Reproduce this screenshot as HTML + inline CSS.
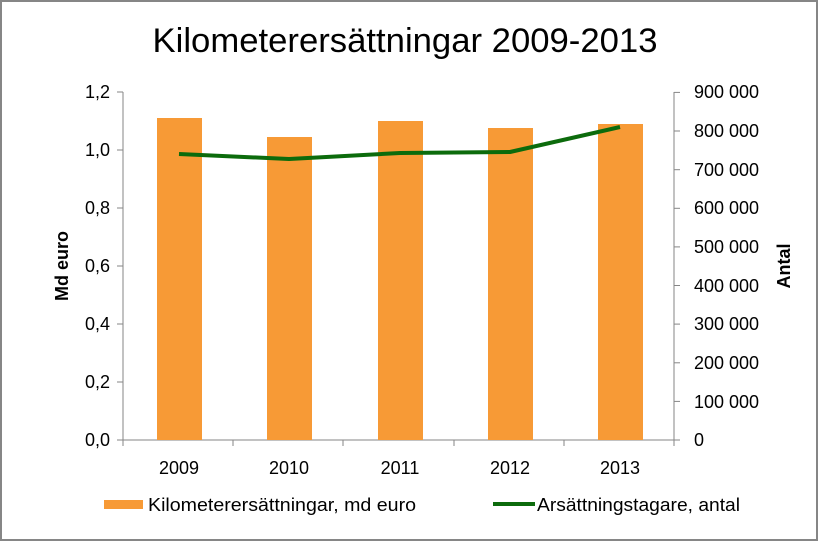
<!DOCTYPE html>
<html><head><style>
body{margin:0;background:#fff;}
svg text{font-family:"Liberation Sans Narrow","Liberation Sans",sans-serif;}
</style></head><body>
<svg width="818" height="541" xmlns="http://www.w3.org/2000/svg">
<rect x="1" y="1" width="816" height="539" fill="#fff" stroke="#868686" stroke-width="2"/>
<text x="405" y="52" font-size="34" text-anchor="middle" fill="#000" textLength="505" lengthAdjust="spacingAndGlyphs">Kilometerersättningar 2009-2013</text>
<g stroke="#868686" stroke-width="1">
<line x1="123" y1="92" x2="123" y2="440"/>
<line x1="674" y1="92" x2="674" y2="440"/>
<line x1="117" y1="440" x2="680" y2="440"/>
<line x1="117" y1="382" x2="123" y2="382"/><line x1="117" y1="324" x2="123" y2="324"/>
<line x1="117" y1="266" x2="123" y2="266"/><line x1="117" y1="208" x2="123" y2="208"/>
<line x1="117" y1="150" x2="123" y2="150"/><line x1="117" y1="92" x2="123" y2="92"/>
<line x1="674" y1="401.4" x2="680" y2="401.4"/><line x1="674" y1="362.8" x2="680" y2="362.8"/>
<line x1="674" y1="324.1" x2="680" y2="324.1"/><line x1="674" y1="285.5" x2="680" y2="285.5"/>
<line x1="674" y1="246.9" x2="680" y2="246.9"/><line x1="674" y1="208.3" x2="680" y2="208.3"/>
<line x1="674" y1="169.7" x2="680" y2="169.7"/><line x1="674" y1="131" x2="680" y2="131"/>
<line x1="674" y1="92.4" x2="680" y2="92.4"/>
<line x1="233" y1="440" x2="233" y2="446"/><line x1="343" y1="440" x2="343" y2="446"/>
<line x1="454" y1="440" x2="454" y2="446"/><line x1="564" y1="440" x2="564" y2="446"/>
<line x1="123" y1="440" x2="123" y2="446"/><line x1="674" y1="440" x2="674" y2="446"/>
</g>
<g fill="#f79a36">
<rect x="157" y="118" width="45" height="322"/>
<rect x="267" y="137" width="45" height="303"/>
<rect x="378" y="121" width="45" height="319"/>
<rect x="488" y="128" width="45" height="312"/>
<rect x="598" y="124" width="45" height="316"/>
</g>
<polyline points="179,154 289,159 400,153 510,152 620,127" fill="none" stroke="#0c6b0c" stroke-width="4" stroke-linejoin="round"/>
<g font-size="18" text-anchor="end" fill="#000">
<text x="110" y="446">0,0</text><text x="110" y="388">0,2</text><text x="110" y="330">0,4</text>
<text x="110" y="272">0,6</text><text x="110" y="214">0,8</text><text x="110" y="156">1,0</text>
<text x="110" y="98">1,2</text>
</g>
<g font-size="18" text-anchor="start" fill="#000">
<text x="694" y="446">0</text><text x="694" y="408">100 000</text><text x="694" y="369">200 000</text>
<text x="694" y="330">300 000</text><text x="694" y="292">400 000</text><text x="694" y="253">500 000</text>
<text x="694" y="214">600 000</text><text x="694" y="176">700 000</text><text x="694" y="137">800 000</text>
<text x="694" y="98">900 000</text>
</g>
<g font-size="18" text-anchor="middle" fill="#000">
<text x="179" y="474">2009</text><text x="289" y="474">2010</text><text x="400" y="474">2011</text>
<text x="510" y="474">2012</text><text x="620" y="474">2013</text>
</g>
<text transform="translate(68,266) rotate(-90)" font-size="18" font-weight="bold" text-anchor="middle">Md euro</text>
<text transform="translate(790,266) rotate(-90)" font-size="18" font-weight="bold" text-anchor="middle">Antal</text>
<rect x="104" y="500" width="39" height="9" fill="#f79a36"/>
<text x="148" y="511" font-size="18" textLength="268" lengthAdjust="spacingAndGlyphs">Kilometerersättningar, md euro</text>
<line x1="493" y1="504" x2="535" y2="504" stroke="#0c6b0c" stroke-width="4"/>
<text x="537" y="511" font-size="18" textLength="203" lengthAdjust="spacingAndGlyphs">Arsättningstagare, antal</text>
</svg>
</body></html>
